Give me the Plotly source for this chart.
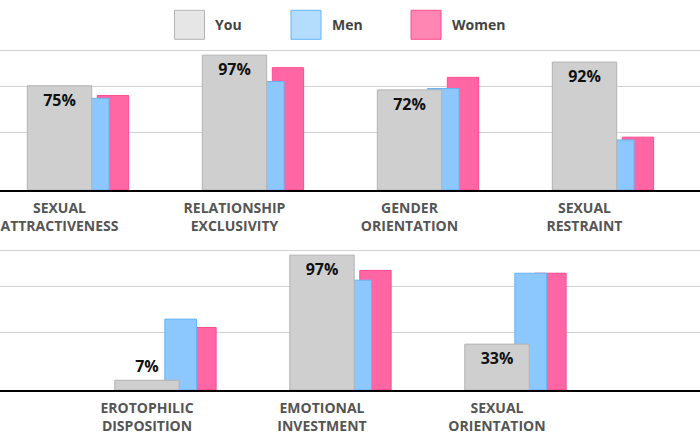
import plotly.graph_objects as go

# ---- data ----
top_categories = ["SEXUAL<br>ATTRACTIVENESS", "RELATIONSHIP<br>EXCLUSIVITY",
                  "GENDER<br>ORIENTATION", "SEXUAL<br>RESTRAINT"]
top_you = [75, 97, 72, 92]
top_men = [66, 78, 73, 36]
top_women = [68, 88, 81, 38]

bottom_categories = ["EROTOPHILIC<br>DISPOSITION", "EMOTIONAL<br>INVESTMENT",
                     "SEXUAL<br>ORIENTATION"]
bottom_you = [7, 97, 33]
bottom_men = [51, 79, 84]
bottom_women = [45, 86, 84]

series_names = ["You", "Men", "Women"]
grid_values = [41.7, 74.8, 100.7]

# ---- style ----
W, H = 700, 440
FONT = "Open Sans"
fill = {"You": "#cfcfcf", "Men": "#8cc8fd", "Women": "#ff66a3"}
edge = {"You": "#b3b3b3", "Men": "#66b5f5", "Women": "#ff4b8e"}
legend_fill = {"You": "#e6e6e6", "Men": "#b3dcfd", "Women": "#ff85b3"}
offsets = {"You": -0.344, "Men": -0.058, "Women": 0.056}
widths = {"You": 0.368, "Men": 0.181, "Women": 0.179}

fig = go.Figure()


def add_panel(cats, you, men, women, xa, ya):
    vals = {"You": you, "Men": men, "Women": women}
    for name in ["Women", "Men", "You"]:
        kw = {}
        if name == "You":
            kw = dict(
                text=[f"{v}%" for v in you],
                textposition=["inside" if v >= 15 else "outside" for v in you],
                insidetextanchor="end",
                textangle=0,
                constraintext="none",
                textfont=dict(family=FONT, size=16, color="#111", weight="bold"),
                cliponaxis=False,
            )
        fig.add_trace(go.Bar(
            x=cats, y=vals[name], name=name, xaxis=xa, yaxis=ya,
            offset=offsets[name], width=widths[name],
            marker=dict(color=fill[name], line=dict(color=edge[name], width=1)),
            showlegend=False, hoverinfo="skip", **kw))


add_panel(top_categories, top_you, top_men, top_women, "x", "y")
add_panel(bottom_categories, bottom_you, bottom_men, bottom_women, "x2", "y2")


def py(px):
    return 1 - px / H


axis_x = dict(
    showline=True, linecolor="#000", linewidth=2, showgrid=False,
    zeroline=False, ticks="", ticklabelshift=-28, ticklabelstandoff=4,
    tickfont=dict(family=FONT, size=14, color="#555", weight="bold"),
    fixedrange=True,
)
axis_y = dict(
    range=[0, 104.3], tickvals=grid_values, showticklabels=False,
    showgrid=True, gridcolor="#d2d2d2", gridwidth=1, zeroline=False,
    showline=False, fixedrange=True,
)

fig.update_layout(
    width=W, height=H,
    margin=dict(l=0, r=0, t=0, b=0),
    paper_bgcolor="white", plot_bgcolor="white",
    barmode="overlay",
    font=dict(family=FONT),
    xaxis=dict(axis_x, domain=[0, 1], range=[-0.5, 3.5], anchor="y"),
    yaxis=dict(axis_y, domain=[py(190), py(45)], anchor="x"),
    xaxis2=dict(axis_x, domain=[0, 1], range=[-1, 3], anchor="y2"),
    yaxis2=dict(axis_y, domain=[py(390), py(245)], anchor="x2"),
)

# ---- custom legend ----
legend_pos = {"You": 174.5, "Men": 291, "Women": 411}
for name in series_names:
    x0 = legend_pos[name]
    fig.add_shape(type="rect", xref="paper", yref="paper",
                  x0=x0 / W, x1=(x0 + 30) / W, y0=py(39.3), y1=py(10.3),
                  fillcolor=legend_fill[name], line=dict(color=edge[name], width=1))
    fig.add_annotation(xref="paper", yref="paper", x=(x0 + 38.5) / W, y=py(24),
                       text=name, showarrow=False, xanchor="left", yanchor="middle",
                       font=dict(family=FONT, size=14, color="#444", weight="bold"))

fig.write_html("out.html")
